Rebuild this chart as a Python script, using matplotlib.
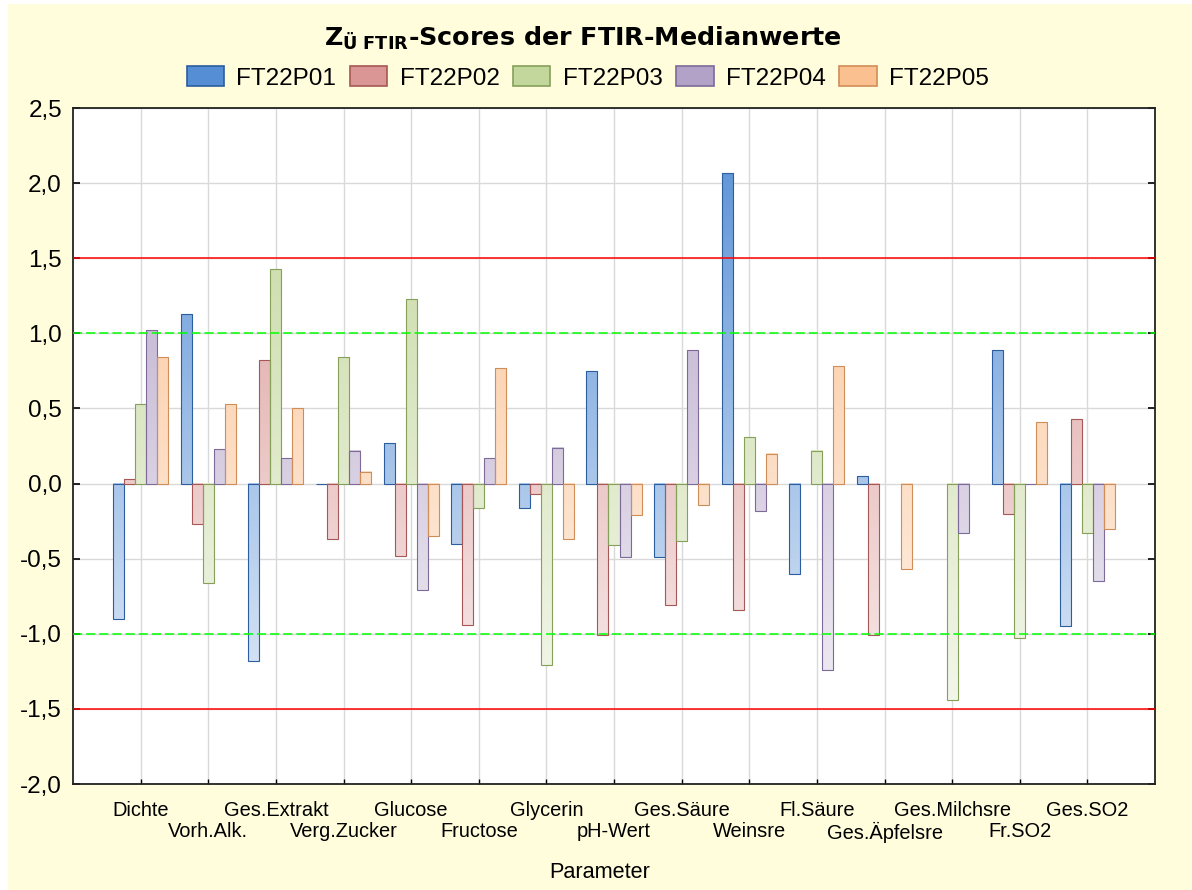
#!/usr/bin/env python3

import numpy as np
import matplotlib
matplotlib.use('Agg')
import matplotlib.pyplot as plt
from matplotlib.patches import Patch, Rectangle
from matplotlib.colors import to_rgb

nan = np.nan

# Parameter names and Z-scores
categories = ['Dichte', 'Vorh.Alk.', 'Ges.Extrakt', 'Verg.Zucker', 'Glucose', 'Fructose', 'Glycerin',
              'pH-Wert', 'Ges.Säure', 'Weinsre', 'Fl.Säure', 'Ges.Äpfelsre', 'Ges.Milchsre', 'Fr.SO2', 'Ges.SO2']
series_names = ['FT22P01', 'FT22P02', 'FT22P03', 'FT22P04', 'FT22P05']

p01 = [-0.90, 1.13, -1.18, 0.00, 0.27, -0.40, -0.16, 0.75, -0.49, 2.07, -0.60, 0.05, nan, 0.89, -0.95]
p02 = [0.03, -0.27, 0.82, -0.37, -0.48, -0.94, -0.07, -1.01, -0.81, -0.84, nan, -1.01, nan, -0.20, 0.43]
p03 = [0.53, -0.66, 1.43, 0.84, 1.23, -0.16, -1.21, -0.41, -0.38, 0.31, 0.22, nan, -1.44, -1.03, -0.33]
p04 = [1.02, 0.23, 0.17, 0.22, -0.71, 0.17, 0.24, -0.49, 0.89, -0.18, -1.24, nan, -0.33, 0.00, -0.65]
p05 = [0.84, 0.53, 0.50, 0.08, -0.35, 0.77, -0.37, -0.21, -0.14, 0.20, 0.78, -0.57, nan, 0.41, -0.30]

yticks = [-2.0, -1.5, -1.0, -0.5, 0.0, 0.5, 1.0, 1.5, 2.0, 2.5]

fills = ['#558ed5', '#d99694', '#c3d69b', '#b3a2c7', '#fac090']
edges = ['#2c5d9f', '#a65856', '#86a05a', '#7d6a98', '#cf8d58']

plt.rcParams['font.family'] = ['Liberation Sans', 'DejaVu Sans']
plt.rcParams['mathtext.fontset'] = 'custom'
plt.rcParams['mathtext.rm'] = 'DejaVu Sans'
plt.rcParams['mathtext.bf'] = 'DejaVu Sans:bold'

fig = plt.figure(figsize=(11.92, 8.90), dpi=100, facecolor='white')
# yellow panel (small white margin at left/top like the screenshot)
fig.patches.append(Rectangle((8 / 1192, 0), 1, 1 - 4 / 890, transform=fig.transFigure,
                             facecolor='#fffddc', edgecolor='none', zorder=-10))

ax = fig.add_axes([73 / 1192, 1 - 784 / 890, (1155 - 73) / 1192, (784 - 108) / 890])
ax.set_facecolor('white')

ymin, ymax = -2.0, 2.5
x = np.arange(1, len(categories) + 1)
w = 0.163


def shade(base, y):
    # vertical gradient over the whole plot: full colour at top, nearly white at bottom
    t = (ymax - y) / (ymax - ymin) * 0.9
    b = np.array(to_rgb(base))
    return b + t * (1 - b)


all_series = [p01, p02, p03, p04, p05]
for i, vals in enumerate(all_series):
    offs = (i - 2) * w
    for xi, v in zip(x, vals):
        if np.isnan(v):
            continue
        x0 = xi + offs - w / 2
        if v != 0:
            lo, hi = min(0, v), max(0, v)
            ys = np.linspace(hi, lo, 60)
            img = np.array([shade(fills[i], yy) for yy in ys]).reshape(60, 1, 3)
            ax.imshow(img, extent=(x0, x0 + w, lo, hi), aspect='auto', interpolation='bilinear', zorder=2)
        ax.bar(xi + offs, v, width=w, facecolor='none', edgecolor=edges[i], linewidth=0.8, zorder=3)

# limit lines
for yv in (1.5, -1.5):
    ax.axhline(yv, color='#ff0000', linewidth=1.1, zorder=4)
for yv in (1.0, -1.0):
    ax.axhline(yv, color='#00ff00', linewidth=1.1, linestyle=(0, (6, 2.6)), zorder=4)

ax.set_xlim(0, 16)
ax.set_ylim(ymin, ymax)
ax.set_yticks(yticks)
ax.set_yticklabels([f'{v:.1f}'.replace('.', ',') for v in yticks], fontsize=17.5)
# category labels staggered on two rows: major ticks = upper row, minor ticks = lower row
ax.set_xticks(x[0::2])
ax.set_xticklabels(categories[0::2], fontsize=14.4)
ax.set_xticks(x[1::2], minor=True)
ax.set_xticklabels(categories[1::2], minor=True, fontsize=14.4)
ax.tick_params(axis='y', direction='in', length=5, width=1.2, right=True, pad=8)
ax.tick_params(axis='x', which='major', direction='in', length=3.5, width=1, pad=12.4)
ax.tick_params(axis='x', which='minor', direction='in', length=3.5, width=1, pad=27.5)
ax.grid(True, which='major', color='#d9d9d9', linewidth=1.0, zorder=0)
ax.grid(True, which='minor', axis='x', color='#d9d9d9', linewidth=1.0, zorder=0)
ax.set_axisbelow(True)
for s in ax.spines.values():
    s.set_linewidth(1.3)
    s.set_color('#222222')

fig.text(0.489, 1 - 46 / 890, r'$\mathbf{Z_{Ü\ FTIR}}$' + '-Scores der FTIR-Medianwerte',
         ha='center', va='baseline', fontsize=18.3, fontweight='bold', family='DejaVu Sans')

handles = [Patch(facecolor=fills[i], edgecolor=edges[i], linewidth=1.2, label=series_names[i]) for i in range(5)]
fig.legend(handles=handles, loc='center', bbox_to_anchor=(0.493, 1 - 78 / 890), ncol=5, frameon=False,
           fontsize=17.5, handlelength=1.55, handleheight=0.9, handletextpad=0.5, columnspacing=0.55,
           borderpad=0, borderaxespad=0)

fig.text(0.503, 1 - 872 / 890, 'Parameter', ha='center', va='center', fontsize=15.6)

plt.savefig('out.png', dpi=100, facecolor=fig.get_facecolor())
